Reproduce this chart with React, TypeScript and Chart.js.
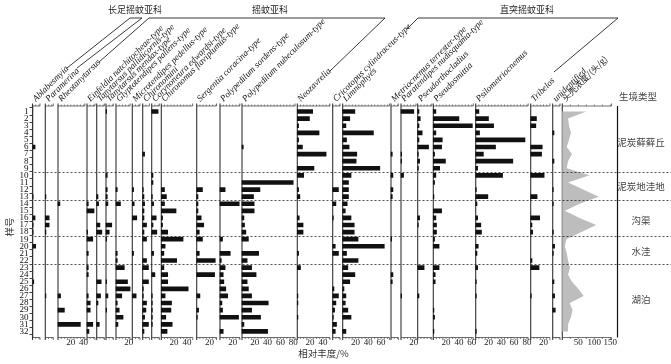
import React, { useEffect, useRef } from 'react';
import { Chart, registerables } from 'chart.js';
Chart.register(...registerables);

// ---------------- data ----------------
const samples = [1, 2, 3, 4, 5, 6, 7, 8, 9, 10, 11, 12, 13, 14, 15, 16, 17, 18, 19, 20, 21, 22, 23, 24, 25, 26, 27, 28, 29, 30, 31, 32];

const taxa = [
  'Ablabesmyia', 'Paramerina', 'Rheotanytarsus', 'Einfeldia natchitocheae-type',
  'Tanytarsus pallidicornis-type', 'Tanytarsus mendax-type', 'Glyptotendipes pallens-type',
  'Microtendipes pedellus-type', 'Chironomini', 'Corynoneura edwardsi-type',
  'Chironomus flaviplumus-type', 'Sergentia coracina-type', 'Polypedilum sordens-type',
  'Polypedilum nubeculosum-type', 'Neozavrelia', 'Cricotopus cylindraceus-type', 'Limnophyes',
  'Metriocnemus terrester-type', 'Paratendipes nudisquama-type', 'Pseudorthocladius',
  'Pseudosmittia', 'Psilometriocnemus', 'Tribelos', 'unidentified', '头壳浓度/(头/g)',
];

const ablabesmyia = [0, 0, 0, 0, 0, 4, 0, 0, 0, 0, 0, 0, 1, 0, 0, 4, 1, 1, 0, 5, 0, 0, 0, 0, 2, 0, 0, 0, 0, 0, 0, 0];
const paramerina = [0, 0, 0, 0, 0, 0, 0, 0, 0, 0, 0, 0, 1, 0, 0, 6, 6, 1, 0, 0, 0, 0, 0, 0, 0, 0, 1, 0, 0, 0, 0, 0];
const rheotanytarsus = [0, 0, 0, 0, 0, 0, 0, 0, 0, 0, 0, 0, 0, 3, 0, 0, 0, 0, 0, 0, 0, 0, 0, 0, 0, 0, 4, 0, 10, 0, 35, 0];
const einfeldia = [0, 0, 0, 0, 0, 0, 0, 0, 0, 0, 0, 0, 0, 2, 11, 0, 0, 1, 9, 0, 2, 0, 2, 2, 0, 0, 2, 5, 5, 0, 9, 3];
const tanyPallidicornis = [0, 0, 0, 0, 0, 0, 0, 0, 0, 0, 0, 0, 2, 3, 0, 0, 5, 8, 0, 0, 0, 0, 0, 0, 7, 0, 6, 2, 0, 0, 4, 0];
const tanyMendax = [1, 0, 0, 0, 0, 0, 0, 0, 0, 2, 0, 2, 2, 3, 0, 0, 9, 5, 1, 0, 0, 0, 0, 0, 1, 0, 3, 0, 1, 0, 0, 0];
const glyptotendipes = [0, 0, 0, 0, 0, 0, 0, 0, 0, 0, 0, 2, 0, 7, 0, 0, 0, 0, 0, 0, 2, 2, 13, 0, 18, 22, 9, 2, 5, 11, 3, 0];
const microtendipes = [0, 0, 0, 0, 0, 0, 0, 0, 0, 0, 0, 2, 0, 3, 0, 7, 0, 0, 0, 0, 2, 0, 0, 0, 0, 0, 6, 0, 0, 0, 0, 0];
const chironomini = [0, 0, 0, 0, 0, 0, 3, 0, 0, 0, 0, 1, 2, 3, 2, 2, 6, 2, 6, 0, 0, 6, 9, 0, 9, 1, 1, 6, 5, 3, 9, 2];
const corynoneura = [10, 0, 0, 0, 0, 0, 0, 0, 0, 2, 2, 0, 1, 3, 0, 7, 2, 8, 0, 0, 3, 0, 0, 5, 0, 0, 1, 1, 1, 1, 1, 0];
const chironomusFlavi = [0, 0, 0, 0, 0, 0, 0, 0, 0, 0, 0, 5, 8, 5, 23, 2, 2, 10, 34, 6, 4, 24, 4, 10, 10, 42, 6, 16, 15, 7, 17, 9];
const sergentia = [0, 0, 0, 0, 0, 0, 0, 0, 0, 0, 0, 9, 2, 2, 2, 7, 11, 4, 9, 0, 4, 29, 0, 28, 0, 0, 5, 0, 3, 1, 0, 0];
const polySordens = [0, 0, 0, 0, 0, 0, 0, 0, 0, 0, 0, 8, 0, 30, 0, 0, 0, 0, 4, 0, 16, 2, 8, 5, 6, 9, 12, 3, 4, 29, 0, 5];
const polyNubeculosum = [0, 0, 0, 0, 0, 2, 0, 0, 0, 0, 80, 28, 18, 19, 19, 3, 4, 6, 10, 0, 26, 8, 15, 22, 8, 10, 15, 41, 15, 29, 3, 40];
const neozavrelia = [24, 19, 2, 34, 2, 8, 45, 0, 26, 10, 0, 2, 4, 0, 0, 3, 9, 9, 0, 0, 2, 0, 5, 0, 0, 0, 1, 1, 0, 1, 0, 0];
const cricotopus = [0, 0, 0, 0, 0, 0, 0, 0, 0, 0, 0, 9, 0, 5, 0, 1, 0, 0, 0, 4, 9, 0, 0, 0, 0, 2, 9, 5, 3, 1, 6, 4];
const limnophyes = [19, 11, 5, 48, 6, 10, 22, 21, 58, 13, 9, 9, 9, 7, 4, 13, 18, 18, 24, 65, 6, 24, 8, 19, 11, 2, 5, 4, 8, 13, 0, 5];
const metriocnemus = [0, 0, 0, 0, 0, 0, 2, 0, 0, 3, 0, 3, 2, 0, 0, 0, 0, 0, 1, 0, 0, 0, 0, 3, 2, 0, 0, 0, 0, 0, 0, 0];
const paratendipes = [20, 0, 0, 0, 0, 0, 1, 1, 0, 4, 0, 0, 0, 0, 0, 0, 0, 0, 0, 0, 0, 0, 0, 0, 0, 0, 1, 0, 0, 0, 0, 0];
const pseudorthocladius = [2, 4, 2, 7, 2, 17, 1, 3, 1, 0, 0, 0, 0, 0, 0, 3, 1, 0, 0, 0, 0, 0, 10, 0, 0, 0, 2, 0, 0, 0, 0, 0];
const pseudosmittia = [4, 40, 61, 4, 14, 13, 2, 19, 10, 4, 2, 0, 1, 0, 13, 4, 5, 5, 2, 9, 0, 0, 9, 3, 3, 0, 0, 0, 1, 2, 0, 1];
const psilometriocnemus = [5, 20, 28, 6, 77, 31, 12, 58, 3, 42, 0, 1, 19, 2, 0, 3, 8, 9, 0, 4, 2, 0, 3, 0, 1, 0, 1, 0, 0, 0, 0, 1];
const tribelos = [0, 9, 8, 0, 0, 18, 17, 0, 0, 21, 0, 0, 10, 0, 0, 14, 2, 3, 0, 0, 0, 2, 13, 0, 0, 0, 1, 0, 0, 0, 0, 0];
const unidentified = [0, 0, 0, 2, 0, 0, 0, 2, 0, 0, 0, 1, 0, 1, 0, 0, 0, 1, 0, 3, 1, 0, 0, 0, 2, 0, 3, 0, 4, 0, 0, 0];
const headConcentration = [75, 18, 21, 27, 21, 14, 30, 18, 14, 85, 18, 65, 114, 54, 8, 54, 106, 60, 13, 8, 14, 18, 24, 18, 30, 50, 67, 23, 32, 27, 18, 18];

const abundance = [
  ablabesmyia, paramerina, rheotanytarsus, einfeldia, tanyPallidicornis, tanyMendax,
  glyptotendipes, microtendipes, chironomini, corynoneura, chironomusFlavi, sergentia,
  polySordens, polyNubeculosum, neozavrelia, cricotopus, limnophyes, metriocnemus,
  paratendipes, pseudorthocladius, pseudosmittia, psilometriocnemus, tribelos, unidentified,
];

const axisTickLabels: number[][] = [
  [], [], [20, 40], [], [], [], [20], [], [], [], [20, 40], [20], [20], [20, 40, 60, 80],
  [20, 40], [], [20, 40, 60], [], [20], [], [20, 40, 60], [20, 40, 60, 80], [20], [], [50, 100, 150],
];

const habitats = ['泥炭藓藓丘', '泥炭地洼地', '沟渠', '水洼', '湖泊'];
const habitatBreaks = [9.5, 13.5, 18.5, 22.5];

// ---------------- layout (not data) ----------------
const W = 671, H = 364;
const LEFT = 32.5, RIGHT = 617.5, TOP = 106, BOTTOM = 337.5, PXU = 0.64;
const HEAD_FACTOR = 0.5;
const panelStartPx = [32.5, 45.3, 58, 87, 96.7, 106, 116, 132.3, 142.7, 151.7, 161.3, 196.7, 220, 242, 297.3, 332.7, 342.7, 391, 401, 417.7, 433.3, 475.7, 530.7, 552.7, 562.3];
const panelWidthU = [11.7, 12.5, 42, 12.5, 12, 11.5, 22, 12, 10.5, 12, 49, 31, 31, 83, 51, 11.5, 73, 11.5, 23.5, 22, 62.5, 82, 30, 11.5, 77];
const habitatY = [5.4, 11.6, 16.3, 20.7, 27.5];

const SERIF = '"Liberation Serif", "DejaVu Serif", serif';
const CJK = '"Noto Sans CJK SC", sans-serif';

function seg(ctx: CanvasRenderingContext2D, x1: number, y1: number, x2: number, y2: number) {
  ctx.beginPath();
  ctx.moveTo(x1, y1);
  ctx.lineTo(x2, y2);
  ctx.stroke();
}

export default function App() {
  const ref = useRef<HTMLCanvasElement>(null);

  useEffect(() => {
    if (!ref.current) return;
    const offsets = panelStartPx.map((p) => (p - LEFT) / PXU);

    const bars: { x: number[]; y: number }[] = [];
    abundance.forEach((arr, k) => {
      arr.forEach((v, i) => {
        if (v > 0) bars.push({ x: [offsets[k], offsets[k] + v], y: samples[i] });
      });
    });
    const hOff = offsets[24];
    const shape = headConcentration.map((v, i) => ({ x: hOff + v * HEAD_FACTOR, y: samples[i] }));
    shape.push({ x: hOff, y: samples[samples.length - 1] });
    shape.push({ x: hOff, y: samples[0] });

    const overlay = {
      id: 'overlay',
      beforeDatasetsDraw(chart: any) {
        const { ctx } = chart;
        const xs = chart.scales.x;
        const { top, bottom } = chart.chartArea;
        ctx.save();
        ctx.strokeStyle = '#333';
        offsets.forEach((off, k) => {
          const x0 = xs.getPixelForValue(off);
          const x1 = xs.getPixelForValue(off + panelWidthU[k]);
          ctx.lineWidth = 1.1;
          seg(ctx, x0, top - 2.5, x0, bottom + 2.5);
          ctx.lineWidth = 0.7;
          seg(ctx, x0, top, x1, top);
          seg(ctx, x0, bottom, x1, bottom);
          seg(ctx, x1, top - 2.5, x1, top);
          seg(ctx, x1, bottom, x1, bottom + 2.5);
          const step = k === 24 ? 12.5 : 5;
          ctx.lineWidth = 0.6;
          for (let t = step; t < panelWidthU[k] - 0.5; t += step) {
            const xp = xs.getPixelForValue(off + t);
            seg(ctx, xp, top - 1.5, xp, top);
            seg(ctx, xp, bottom, xp, bottom + 1.5);
          }
        });
        ctx.restore();
      },
      afterDatasetsDraw(chart: any) {
        const { ctx } = chart;
        const xs = chart.scales.x;
        const ys = chart.scales.y;
        const { top, bottom } = chart.chartArea;
        ctx.save();

        // bottom tick labels
        ctx.fillStyle = '#222';
        ctx.font = `9px ${SERIF}`;
        ctx.textAlign = 'center';
        ctx.textBaseline = 'middle';
        axisTickLabels.forEach((vals, k) => {
          const f = k === 24 ? HEAD_FACTOR : 1;
          vals.forEach((v) => {
            ctx.fillText(String(v), xs.getPixelForValue(offsets[k] + v * f), bottom + 5.5);
          });
        });

        // habitat dashed separators
        ctx.strokeStyle = '#222';
        ctx.lineWidth = 0.8;
        ctx.setLineDash([2, 2]);
        habitatBreaks.forEach((b) => {
          const y = Math.round(ys.getPixelForValue(b)) + 0.5;
          seg(ctx, LEFT + 2, y, W, y);
        });
        ctx.setLineDash([]);

        // habitat column border
        ctx.strokeStyle = '#111';
        ctx.lineWidth = 1.2;
        seg(ctx, RIGHT, top, RIGHT, bottom);

        // taxon labels
        ctx.fillStyle = '#111';
        ctx.textAlign = 'left';
        ctx.textBaseline = 'alphabetic';
        taxa.forEach((name, k) => {
          const x0 = xs.getPixelForValue(offsets[k]);
          ctx.save();
          ctx.translate(x0 + 3.5, 102);
          ctx.rotate(-Math.PI / 4);
          ctx.font = k === 24 ? `8.5px ${CJK}` : `italic 9px ${SERIF}`;
          ctx.fillText(name, 0, 0);
          ctx.restore();
        });

        // group brackets
        ctx.strokeStyle = '#222';
        ctx.lineWidth = 0.9;
        const lines = [
          [130, 18, 67, 68], [142, 18, 77, 68], [130, 18, 142, 18],
          [149, 18, 99, 62], [149, 18, 385, 18], [385, 18, 330, 71],
          [418, 18, 407, 29], [418, 18, 618, 18], [618, 18, 554, 72],
        ];
        lines.forEach((l) => seg(ctx, l[0], l[1], l[2], l[3]));
        ctx.fillStyle = '#222';
        ctx.font = `9px ${CJK}`;
        ctx.textAlign = 'center';
        ctx.textBaseline = 'middle';
        ctx.fillText('长足摇蚊亚科', 135, 10);
        ctx.fillText('摇蚊亚科', 270, 10);
        ctx.fillText('直突摇蚊亚科', 527, 10);

        // habitat labels
        ctx.fillStyle = '#444';
        ctx.font = `9.5px ${CJK}`;
        ctx.fillText('生境类型', 638, 96.5);
        habitats.forEach((h, i) => {
          ctx.fillText(h, 641, ys.getPixelForValue(habitatY[i]));
        });

        // axis titles
        ctx.fillStyle = '#333';
        ctx.font = `9.5px ${CJK}`;
        ctx.fillText('相对丰度/%', 323.5, 353.5);
        ctx.save();
        ctx.translate(9.5, 227);
        ctx.rotate(-Math.PI / 2);
        ctx.fillText('样号', 0, 0);
        ctx.restore();

        ctx.restore();
      },
    };

    const chart = new Chart(ref.current, {
      type: 'bar',
      data: {
        datasets: [
          {
            type: 'line',
            data: shape,
            fill: 'shape',
            backgroundColor: '#bdbdbd',
            borderColor: '#bdbdbd',
            borderWidth: 0,
            pointRadius: 0,
            tension: 0,
            order: 2,
          } as any,
          {
            type: 'bar',
            data: bars as any,
            backgroundColor: '#111',
            borderWidth: 0,
            barThickness: 4,
            order: 1,
          } as any,
        ],
      },
      options: {
        responsive: false,
        animation: false,
        devicePixelRatio: 1,
        indexAxis: 'y',
        events: [],
        layout: { padding: { top: TOP, bottom: H - BOTTOM, left: 0, right: W - RIGHT } },
        plugins: { legend: { display: false }, tooltip: { enabled: false } },
        scales: {
          x: { type: 'linear', min: 0, max: (RIGHT - LEFT) / PXU, display: false },
          y: {
            type: 'linear',
            reverse: true,
            min: 0.73,
            max: 32.35,
            afterBuildTicks: (s: any) => {
              s.ticks = samples.map((v) => ({ value: v }));
            },
            afterFit: (s: any) => {
              s.width = LEFT;
            },
            ticks: { autoSkip: false, font: { family: SERIF, size: 9 }, color: '#111', padding: 1 },
            grid: { display: true, drawOnChartArea: false, tickLength: 3, color: '#111', lineWidth: 0.8 },
            border: { display: true, color: '#111', width: 1.2 },
          },
        },
      } as any,
      plugins: [overlay],
    });
    return () => chart.destroy();
  }, []);

  return (
    <div style={{ position: 'absolute', left: 0, top: 0, width: W, height: H, background: '#fff' }}>
      <canvas ref={ref} width={W} height={H} style={{ display: 'block', width: W, height: H }} />
    </div>
  );
}
